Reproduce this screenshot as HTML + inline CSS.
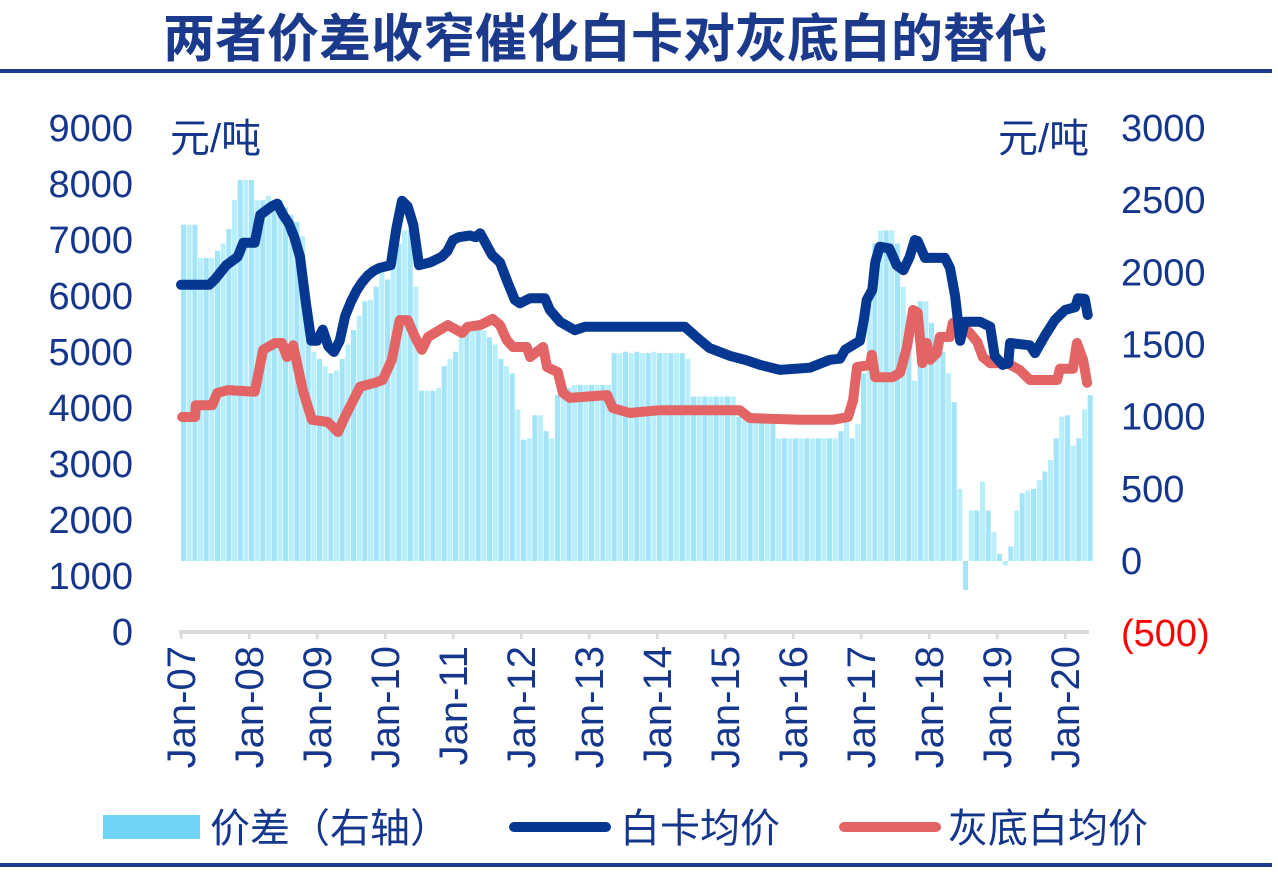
<!DOCTYPE html>
<html><head><meta charset="utf-8">
<style>
body{margin:0;background:#fff;}
#wrap{position:relative;width:1278px;height:880px;overflow:hidden;font-family:"Liberation Sans","Noto Sans CJK SC",sans-serif;}
</style></head>
<body>
<div id="wrap">
<svg id="chart" width="1278" height="880" xmlns="http://www.w3.org/2000/svg">
  <text x="605" y="57" text-anchor="middle" font-size="52" font-weight="bold" fill="#1b3a8c" font-family="Liberation Sans, Noto Sans CJK SC, sans-serif">两者价差收窄催化白卡对灰底白的替代</text>
  <rect x="0" y="69" width="1272" height="4" fill="#1b3a8c"/>
  <rect x="0" y="863" width="1272" height="4" fill="#1b3a8c"/>
  <g id="bars"></g>
  <g id="axes"></g>
  <g id="lines"></g>
  <text x="170" y="152" font-size="40" fill="#14368c" font-family="Liberation Sans, Noto Sans CJK SC, sans-serif">元/吨</text>
  <text x="998" y="152" font-size="40" fill="#14368c" font-family="Liberation Sans, Noto Sans CJK SC, sans-serif">元/吨</text>
  <g font-size="40" fill="#14368c" font-family="Liberation Sans, Noto Sans CJK SC, sans-serif">
    <rect x="103" y="815" width="97" height="24" fill="#6fd3f7"/>
    <text x="210" y="842">价差（右轴）</text>
    <line x1="514" y1="827" x2="606" y2="827" stroke="#063891" stroke-width="10" stroke-linecap="round"/>
    <text x="620" y="842">白卡均价</text>
    <line x1="844" y1="827" x2="936" y2="827" stroke="#e36464" stroke-width="10" stroke-linecap="round"/>
    <text x="948" y="842">灰底白均价</text>
  </g>
</svg>
</div>
<script>
// months since Jan-2007
const whiteMonths=[0,5,6,8,10,11,13,14,16,17,18,19,20,21,22,23,24,25,26,27,28,29,30,31,32,33,34,35,37,38,39,40,41,42,44,46,47,48,49,51,52,52.8,54.9,56.3,57.5,58.9,59.8,61.6,64.2,65.1,66.9,69.5,71.3,84.5,88.9,91.6,93.3,96.9,99.5,102.2,105.7,111,114.5,116.3,117.2,119.8,120.5,121,122,122.5,123.3,125,126.3,127.5,128.6,129.5,130,131.3,134.8,135.7,136.6,137.5,138.3,141,142.8,143.6,145,146,146.3,149.8,150.7,152.5,154.2,156,157.8,158.3,159.5,160];
const whiteValues=[6200,6200,6300,6550,6700,6950,6950,7450,7600,7650,7450,7300,7050,6700,5900,5200,5200,5400,5100,5000,5200,5650,5900,6100,6250,6370,6450,6500,6550,7200,7700,7600,7270,6550,6600,6700,6800,7000,7050,7080,7050,7120,6730,6600,6280,5930,5870,5960,5960,5750,5540,5390,5450,5450,5450,5210,5070,4930,4860,4770,4680,4720,4860,4880,5040,5200,5570,5930,6110,6600,6880,6850,6550,6460,6700,7000,6980,6680,6680,6500,6000,5200,5540,5540,5450,4930,4770,4800,5160,5120,4980,5300,5570,5750,5800,5960,5950,5660];
const greyMonths=[0.2,2.5,2.6,5.5,6.4,8.3,13,14.5,16.6,17.8,18.7,19.8,21.5,23.1,25.9,27.7,28.9,31.6,34.2,35.6,37.2,38.6,40,41.3,42.5,43.6,47.1,49.6,50.6,52.8,55,56.3,57.5,58.6,61,61.6,63.9,64.6,66.5,67.4,68.6,75.2,76.2,79.2,84.5,98.6,100.4,109.2,115,117.7,118.6,119.3,121.6,121.9,122.5,125.6,126.9,128.1,129.2,130,130.8,131.6,132.2,133.4,133.9,135.7,136.2,138,139.2,140.5,141.5,142.8,145.8,148,149.8,154.6,155.1,157.4,158.1,159.2,159.9];
const greyValues=[3840,3840,4050,4050,4270,4320,4290,5040,5160,5160,4910,5120,4320,3790,3750,3570,3840,4380,4450,4500,4860,5570,5570,5270,5040,5270,5480,5340,5450,5480,5590,5480,5210,5090,5090,4910,5090,4730,4640,4270,4180,4230,4000,3910,3960,3960,3820,3790,3790,3840,4140,4730,4770,4950,4550,4550,4630,5090,5750,5700,4800,5160,4860,4980,5270,5270,5520,5450,5340,5180,4910,4800,4800,4680,4500,4500,4700,4700,5160,4860,4450];
const spreadValues=[2330,2330,2330,2100,2100,2100,2150,2200,2300,2500,2640,2640,2640,2500,2500,2530,2500,2500,2450,2400,2350,2250,1810,1450,1400,1350,1300,1320,1400,1500,1600,1700,1800,1810,1900,2000,1950,2050,2200,2290,2290,1900,1180,1180,1180,1200,1350,1400,1450,1550,1600,1600,1650,1600,1550,1500,1400,1350,1300,1050,840,850,1010,1010,900,850,1150,1150,1200,1220,1220,1220,1220,1220,1220,1220,1440,1440,1450,1440,1450,1440,1440,1450,1440,1440,1440,1440,1440,1400,1140,1140,1140,1140,1140,1140,1140,1140,1000,980,980,980,980,980,980,850,850,850,850,850,850,850,850,850,850,850,900,1000,850,950,1300,1800,2200,2290,2290,2290,2200,1900,1700,1250,1800,1800,1650,1550,1450,1300,1100,500,-200,350,350,550,350,200,50,-30,100,350,470,490,500,560,620,700,850,1000,1010,800,850,1050,1150];
const leftTicks=[0,1000,2000,3000,4000,5000,6000,7000,8000,9000];
const rightTicks=[-500,0,500,1000,1500,2000,2500,3000];
const yearLabels=["Jan-07","Jan-08","Jan-09","Jan-10","Jan-11","Jan-12","Jan-13","Jan-14","Jan-15","Jan-16","Jan-17","Jan-18","Jan-19","Jan-20"];

const NS="http://www.w3.org/2000/svg";
const X0=181, PXM=68/12;
function xS(m){return X0+m*PXM;}
function yL(v){return 632-v*504/9000;}
function yR(v){return 561-v*433/3000;}
function mk(tag,attrs,parent){const e=document.createElementNS(NS,tag);for(const k in attrs)e.setAttribute(k,attrs[k]);parent.appendChild(e);return e;}

const bars=document.getElementById('bars');
spreadValues.forEach((v,i)=>{
  const x=xS(i), y0=yR(0), y1=yR(v);
  const r=mk('rect',{x:x.toFixed(2),y:Math.min(y0,y1).toFixed(2),width:(PXM-0.6).toFixed(2),height:Math.abs(y1-y0).toFixed(2),fill:i%2?'#b9eefc':'#a3e4f9'},bars);
  
  
});

const axes=document.getElementById('axes');
const xl=mk('rect',{x:179,y:630,width:910,height:4,fill:'#d9d9d9'},axes);


yearLabels.forEach((lab,i)=>{
  const x=xS(i*12);
  const t=mk('rect',{x:x-1,y:632,width:2.5,height:7,fill:'#d9d9d9'},axes);
  
  
  const tx=mk('text',{x:0,y:0,transform:`translate(${x+14},646) rotate(-90)`,'text-anchor':'end','font-size':40,fill:'#14368c','font-family':'Liberation Sans, sans-serif'},axes);
  tx.textContent=lab;
  
  
});
leftTicks.forEach(v=>{
  const t=mk('text',{x:133,y:yL(v)+13,'text-anchor':'end','font-size':38,fill:'#14368c','font-family':'Liberation Sans, sans-serif'},axes);
  t.textContent=v;
  
  
});
rightTicks.forEach(v=>{
  const t=mk('text',{x:1121,y:yR(v)+13,'font-size':38,fill:v<0?'#ff0000':'#14368c','font-family':'Liberation Sans, sans-serif'},axes);
  t.textContent=v<0?'('+(-v)+')':v;
  
  
});

const lines=document.getElementById('lines');
function path(ms,vs){return ms.map((m,i)=>(i?'L':'M')+xS(m).toFixed(1)+','+yL(vs[i]).toFixed(1)).join(' ');}
const g=mk('path',{d:path(greyMonths,greyValues),fill:'none',stroke:'#e36464','stroke-width':10,'stroke-linejoin':'round','stroke-linecap':'round'},lines);


const w=mk('path',{d:path(whiteMonths,whiteValues),fill:'none',stroke:'#063891','stroke-width':10,'stroke-linejoin':'round','stroke-linecap':'round'},lines);


</script>
</body></html>
